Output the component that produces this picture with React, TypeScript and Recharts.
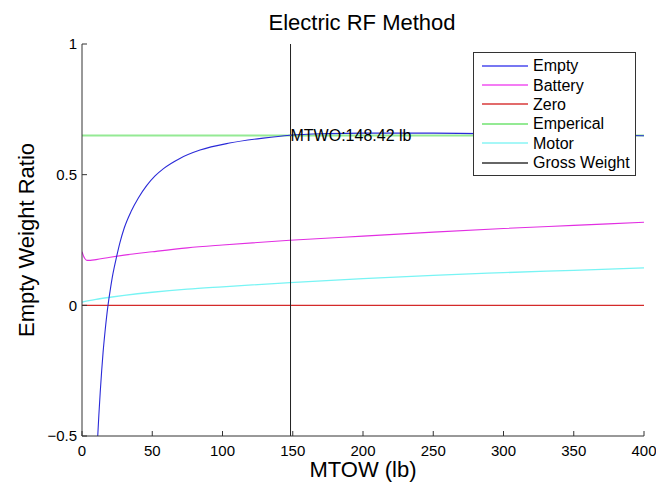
import React from 'react';
import { LineChart, Line, XAxis, YAxis, Legend, ReferenceDot } from 'recharts';

const FONT = '"Liberation Sans", Arial, Helvetica, sans-serif';

const X_TICKS = [0, 50, 100, 150, 200, 250, 300, 350, 400];
const Y_TICKS = [-0.5, 0, 0.5, 1];

const EMPTY: [number, number][] = [
  [11.2, -0.5], [12, -0.42], [13, -0.33], [14, -0.25], [15, -0.18], [16.4, -0.1],
  [18.5, 0], [20, 0.055], [22, 0.12], [24.7, 0.188], [27, 0.24], [30, 0.295],
  [35, 0.36], [40, 0.41], [46, 0.458], [52, 0.495], [58, 0.523], [70, 0.563],
  [84, 0.594], [105, 0.621], [129, 0.64], [148, 0.651], [175, 0.657],
  [200, 0.659], [250, 0.659], [300, 0.656], [350, 0.653], [400, 0.649],
];

const BATTERY: [number, number][] = [
  [0, 0.205], [1, 0.19], [2, 0.179], [3.5, 0.172], [6, 0.172], [10, 0.175],
  [20, 0.184], [30, 0.192], [50, 0.205], [75, 0.22], [100, 0.231], [148, 0.249],
  [200, 0.265], [250, 0.28], [300, 0.294], [350, 0.306], [400, 0.318],
];

const MOTOR: [number, number][] = [
  [0, 0.012], [5, 0.018], [10, 0.023], [20, 0.031], [30, 0.038], [50, 0.05],
  [75, 0.062], [100, 0.071], [148, 0.087], [200, 0.102], [250, 0.115],
  [300, 0.125], [350, 0.134], [400, 0.143],
];

const ZERO: [number, number][] = [[0, 0], [400, 0]];
const EMPERICAL: [number, number][] = [[0, 0.65], [400, 0.65]];
const MTOW = 148.42;
const GROSS: [number, number][] = [[MTOW, -0.5], [MTOW, 1]];

const toPts = (a: [number, number][]) => a.map(([x, y]) => ({ x, y }));

const SERIES = [
  { name: 'Empty', data: EMPTY, color: '#2a2ad8', legend: '#4a4aee', width: 1.1 },
  { name: 'Battery', data: BATTERY, color: '#e22ee2', legend: '#f050f0', width: 1.1 },
  { name: 'Zero', data: ZERO, color: '#d42a2a', legend: '#d83a3a', width: 1.1 },
  { name: 'Emperical', data: EMPERICAL, color: '#94ea94', legend: '#94ea94', width: 2 },
  { name: 'Motor', data: MOTOR, color: '#78f4f4', legend: '#88f4f4', width: 1.3 },
  { name: 'Gross Weight', data: GROSS, color: '#222222', legend: '#333333', width: 1 },
];

const DRAW_ORDER = ['Emperical', 'Zero', 'Motor', 'Battery', 'Gross Weight', 'Empty'];

const LegendBox = () => (
  <div
    style={{
      background: '#fff',
      border: '1px solid #333',
      width: 161,
      padding: '3px 0 3px 0',
      fontFamily: FONT,
      fontSize: 16,
      color: '#000',
    }}
  >
    {SERIES.map((s) => (
      <div key={s.name} style={{ display: 'flex', alignItems: 'center', height: 19.4 }}>
        <svg width={54} height={6} style={{ display: 'block' }}>
          <line x1={8} x2={54} y1={3} y2={3} stroke={s.legend} strokeWidth={s.width > 1.5 ? 2 : 1.4} />
        </svg>
        <span style={{ marginLeft: 5, lineHeight: '19px', whiteSpace: 'nowrap' }}>{s.name}</span>
      </div>
    ))}
  </div>
);

export default function App() {
  const ordered = DRAW_ORDER.map((n) => SERIES.find((s) => s.name === n)!);
  return (
    <div style={{ position: 'absolute', left: 0, top: 0, width: 656, height: 484, fontFamily: FONT, background: '#fff' }}>
      <svg width={656} height={40} style={{ position: 'absolute', left: 0, top: 0 }}>
        <text x={362} y={30} textAnchor="middle" fontSize={22} fill="#000" fontFamily={FONT}>
          Electric RF Method
        </text>
      </svg>
      <LineChart
        width={656}
        height={484}
        margin={{ top: 44, right: 12, left: 0, bottom: 0 }}
        style={{ fontFamily: FONT }}
      >
        <XAxis
          dataKey="x"
          type="number"
          domain={[0, 400]}
          ticks={X_TICKS}
          interval={0}
          allowDataOverflow
          height={48}
          tickSize={-5}
          tickMargin={14}
          axisLine={{ stroke: '#333' }}
          tickLine={{ stroke: '#333' }}
          tick={{ fill: '#000', fontSize: 15 }}
          label={{ value: 'MTOW (lb)', position: 'insideBottom', offset: 7, fontSize: 22, fill: '#000' }}
        />
        <YAxis
          dataKey="y"
          type="number"
          domain={[-0.5, 1]}
          ticks={Y_TICKS}
          interval={0}
          allowDataOverflow
          width={82}
          tickSize={-5}
          tickMargin={10}
          axisLine={{ stroke: '#333' }}
          tickLine={{ stroke: '#333' }}
          tick={{ fill: '#000', fontSize: 15 }}
          tickFormatter={(v: number) => (v < 0 ? '\u2212' + Math.abs(v) : String(v))}
          label={{
            value: 'Empty Weight Ratio',
            angle: -90,
            position: 'insideLeft',
            offset: 26,
            fontSize: 22,
            fill: '#000',
            style: { textAnchor: 'middle' },
          }}
        />
        {ordered.map((s) => (
          <Line
            key={s.name}
            name={s.name}
            data={toPts(s.data)}
            dataKey="y"
            type="monotone"
            stroke={s.color}
            strokeWidth={s.width}
            dot={false}
            activeDot={false}
            isAnimationActive={false}
          />
        ))}
        <ReferenceDot
          x={MTOW}
          y={0.65}
          r={0}
          fill="none"
          stroke="none"
          label={{ value: `MTWO:${MTOW} lb`, position: 'right', offset: 0, fontSize: 16, fill: '#000' }}
        />
        <Legend
          layout="vertical"
          align="center"
          verticalAlign="middle"
          wrapperStyle={{ left: 473, top: 52, width: 163 }}
          content={() => <LegendBox />}
        />
      </LineChart>
    </div>
  );
}
